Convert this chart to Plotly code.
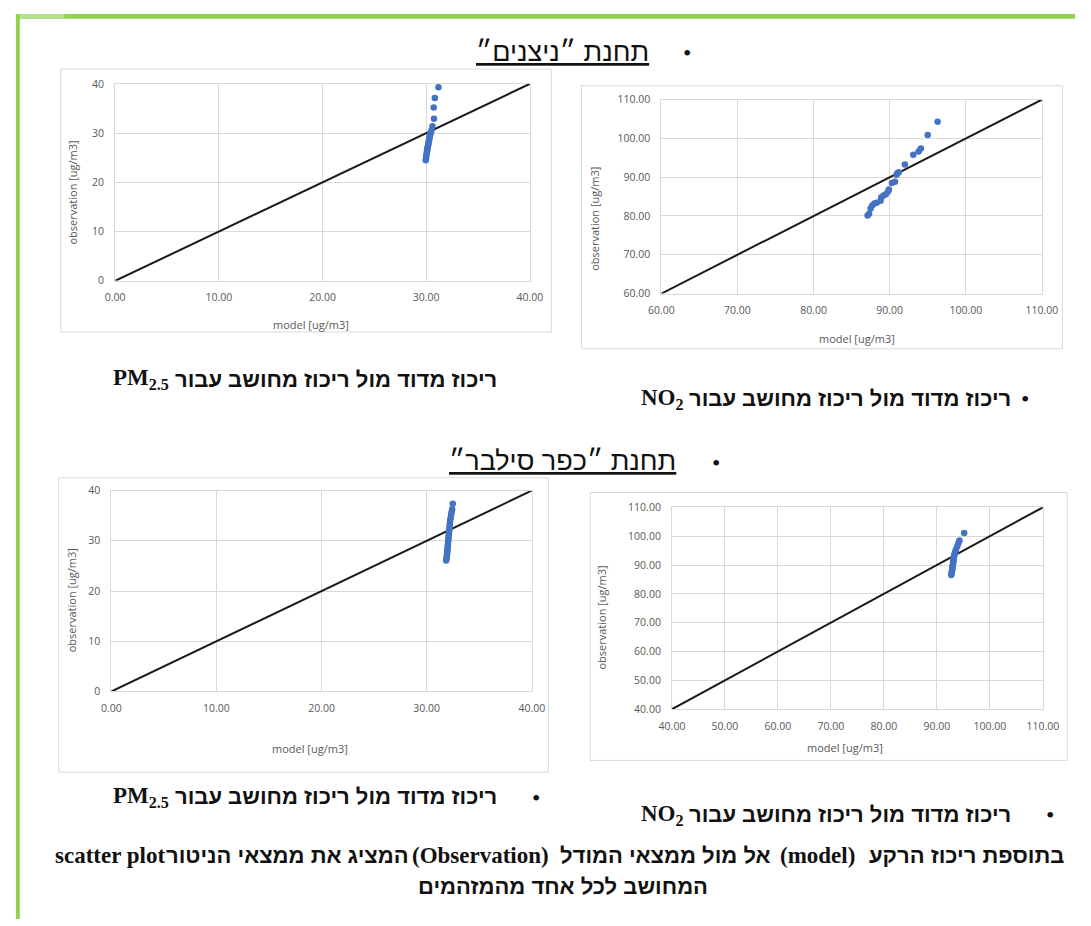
import plotly.graph_objects as go

W, H = 1091, 926

# ---- Netzanim station: PM2.5 (model vs observation, ug/m3)
pm_nitz_model = [29.95, 29.98, 30.00, 30.02, 30.05, 30.08, 30.10, 30.12, 30.15, 30.18,
                 30.20, 30.22, 30.25, 30.28, 30.30, 30.33, 30.36, 30.40, 30.45, 30.50,
                 30.60, 30.75, 30.72, 30.83, 31.18]
pm_nitz_obs = [24.5, 24.9, 25.2, 25.6, 25.9, 26.3, 26.6, 26.9, 27.2, 27.5,
               27.8, 28.0, 28.3, 28.6, 28.9, 29.2, 29.5, 29.8, 30.1, 30.5,
               31.4, 32.9, 35.2, 37.1, 39.3]

# ---- Netzanim station: NO2
no2_nitz_model = [87.1, 87.3, 87.5, 87.7, 88.0, 88.3, 88.8, 88.9, 89.2, 89.5,
                  89.8, 89.9, 90.3, 90.7, 90.9, 91.0, 91.2, 92.0, 93.1, 93.8,
                  94.1, 95.0, 96.3]
no2_nitz_obs = [80.1, 80.6, 81.9, 82.7, 83.2, 83.4, 83.9, 84.8, 85.3, 85.6,
                86.3, 86.8, 88.5, 88.8, 90.6, 91.0, 91.3, 93.3, 95.8, 96.6,
                97.4, 100.9, 104.3]

# ---- Kfar Silver station: PM2.5
pm_kfar_model = [31.85, 31.88, 31.90, 31.92, 31.93, 31.95, 31.97, 31.98, 32.00, 32.02,
                 32.03, 32.05, 32.07, 32.08, 32.10, 32.12, 32.14, 32.15, 32.17, 32.20,
                 32.22, 32.25, 32.30, 32.33, 32.38, 32.42, 32.48]
pm_kfar_obs = [26.1, 26.4, 26.7, 27.0, 27.3, 27.7, 28.0, 28.4, 28.8, 29.2,
               29.6, 30.0, 30.4, 30.8, 31.2, 31.6, 32.0, 32.4, 32.8, 33.3,
               33.8, 34.3, 34.8, 35.3, 35.8, 36.3, 37.4]

# ---- Kfar Silver station: NO2
no2_kfar_model = [92.70, 92.75, 92.80, 92.85, 92.88, 92.92, 92.95, 93.00, 93.05, 93.08,
                  93.12, 93.15, 93.20, 93.25, 93.30, 93.40, 93.50, 93.60, 93.85, 94.05,
                  94.25, 95.15]
no2_kfar_obs = [86.5, 87.0, 87.5, 88.0, 88.5, 89.0, 89.5, 90.0, 90.5, 91.0,
                91.5, 92.0, 92.5, 93.0, 93.6, 94.2, 94.8, 95.4, 96.5, 97.5,
                98.5, 101.1]

# axis ranges (the 1:1 reference line spans each range)
pm_range = [0, 40]
no2_nitz_range = [60, 110]
no2_kfar_range = [40, 110]

x_title = "model [ug/m3]"
y_title = "observation [ug/m3]"

header_nitz = "תחנת ״ניצנים״"
header_kfar = "תחנת ״כפר סילבר״"
caption_he = "ריכוז מדוד מול ריכוז מחושב עבור"
pm_label = "PM<sub>2.5</sub>"
no2_label = "NO<sub>2</sub>"
# summary sentence runs, in the order they sit from left to right on the line
summary_runs = ["scatter plot", "המציג את ממצאי הניטור", "(Observation)",
                "אל מול ממצאי המודל", "(model)", "בתוספת ריכוז הרקע"]
summary_line2 = "המחושב לכל אחד מהמזהמים"


def fx(p):
    return p / W


def fy(p):
    return 1 - p / H


GRID = "#d9d9d9"
TICK_COLOR = "#595959"
BLUE = "#4472c4"
GREEN = "#92d050"
TICK_FONT = dict(family="Open Sans", size=10.5, color=TICK_COLOR)
AXIS_TITLE_FONT = dict(family="Open Sans", size=11, color=TICK_COLOR)

# plot: pixel box of the plotting area; frame: chart border;
# xt / yt: centres of the x and y axis titles
panels = [
    dict(model=pm_nitz_model, obs=pm_nitz_obs, rng=pm_range, dtick=10,
         xfmt=".2f", yfmt=".0f", plot=(105, 531, 78, 278), frame=(49, 553, 63, 330),
         xt=(306, 322), yt=(61, 188)),
    dict(model=no2_nitz_model, obs=no2_nitz_obs, rng=no2_nitz_range, dtick=10,
         xfmt=".2f", yfmt=".2f", plot=(666, 1057, 94, 291), frame=(584, 1078, 80, 347),
         xt=(867, 337), yt=(598, 215)),
    dict(model=pm_kfar_model, obs=pm_kfar_obs, rng=pm_range, dtick=10,
         xfmt=".2f", yfmt=".0f", plot=(101, 533, 491, 695), frame=(47, 550, 478, 777),
         xt=(305, 753), yt=(60, 602)),
    dict(model=no2_kfar_model, obs=no2_kfar_obs, rng=no2_kfar_range, dtick=10,
         xfmt=".2f", yfmt=".2f", plot=(677, 1058, 508, 713), frame=(593, 1083, 493, 765),
         xt=(855, 752), yt=(605, 620)),
]

fig = go.Figure()
shapes = []
annotations = []

for i, p in enumerate(panels, start=1):
    xa = "x" if i == 1 else f"x{i}"
    ya = "y" if i == 1 else f"y{i}"
    # 1:1 line
    fig.add_trace(go.Scatter(x=p["rng"], y=p["rng"], mode="lines",
                             line=dict(color="#1a1a1a", width=2),
                             xaxis=xa, yaxis=ya, showlegend=False, hoverinfo="skip"))
    # observations vs model
    fig.add_trace(go.Scatter(x=p["model"], y=p["obs"], mode="markers",
                             marker=dict(color=BLUE, size=6.5, line=dict(width=0)),
                             xaxis=xa, yaxis=ya, showlegend=False))
    x0, x1, y0, y1 = p["plot"]
    axis_common = dict(range=p["rng"], dtick=p["dtick"], tick0=p["rng"][0],
                       showgrid=True, gridcolor=GRID, gridwidth=1,
                       showline=True, linecolor=GRID, linewidth=1, mirror=True,
                       zeroline=False, ticks="", tickfont=TICK_FONT, fixedrange=True)
    fig.update_layout(**{
        ("xaxis" if i == 1 else f"xaxis{i}"): dict(
            axis_common, domain=[fx(x0), fx(x1)], anchor=ya,
            tickformat=p["xfmt"], ticklabelstandoff=7),
        ("yaxis" if i == 1 else f"yaxis{i}"): dict(
            axis_common, domain=[fy(y1), fy(y0)], anchor=xa,
            tickformat=p["yfmt"], ticklabelstandoff=8),
    })
    # chart frame
    f0, f1, g0, g1 = p["frame"]
    shapes.append(dict(type="rect", xref="paper", yref="paper",
                       x0=fx(f0), x1=fx(f1), y0=fy(g1), y1=fy(g0),
                       line=dict(color=GRID, width=1), fillcolor="rgba(0,0,0,0)",
                       layer="below"))
    # axis titles
    annotations.append(dict(text=x_title, x=fx(p["xt"][0]), y=fy(p["xt"][1]),
                            xref="paper", yref="paper", showarrow=False,
                            xanchor="center", yanchor="middle", font=AXIS_TITLE_FONT))
    annotations.append(dict(text=y_title, x=fx(p["yt"][0]), y=fy(p["yt"][1]),
                            xref="paper", yref="paper", showarrow=False, textangle=-90,
                            xanchor="center", yanchor="middle", font=AXIS_TITLE_FONT))

# page border decoration
shapes += [
    dict(type="rect", xref="paper", yref="paper", x0=fx(3), x1=fx(1091), y0=fy(12), y1=fy(7),
         fillcolor=GREEN, line=dict(width=0)),
    dict(type="rect", xref="paper", yref="paper", x0=fx(3), x1=fx(53), y0=fy(12), y1=fy(7),
         fillcolor="#b5e08e", line=dict(width=0)),
    dict(type="rect", xref="paper", yref="paper", x0=fx(3), x1=fx(7), y0=fy(926), y1=fy(7),
         fillcolor=GREEN, line=dict(width=0)),
]

HEAD_FONT = dict(family="Liberation Sans", size=27, color="#111111")
LATIN_FONT = dict(family="Liberation Serif", size=23, color="#111111")
HEB_FONT = dict(family="Liberation Sans", size=22, color="#111111")
BULLET_FONT = dict(family="Liberation Serif", size=24, color="#111111")


def text(t, x, y, font, xanchor="center"):
    annotations.append(dict(text=t, x=fx(x), y=fy(y), xref="paper", yref="paper",
                            showarrow=False, xanchor=xanchor, yanchor="middle", font=font))


# station headings
text(f"<u>{header_nitz}</u>", 565, 46, HEAD_FONT)
text("•", 692, 47, BULLET_FONT)
text(f"<u>{header_kfar}</u>", 565, 461, HEAD_FONT)
text("•", 722, 463, BULLET_FONT)

# captions under each chart
for (yy, bullet_x) in [(378, None), (802, 537)]:
    text(f"<b>{pm_label}</b>", 101, yy, LATIN_FONT, xanchor="left")
    text(f"<b>{caption_he}</b>", 499, yy, HEB_FONT, xanchor="right")
    if bullet_x:
        text("•", bullet_x, yy + 1, BULLET_FONT)
for (yy, bullet_x) in [(398, 1040), (820, 1065)]:
    text(f"<b>{no2_label}</b>", 643, yy, LATIN_FONT, xanchor="left")
    text(f"<b>{caption_he}</b>", 1027, yy, HEB_FONT, xanchor="right")
    text("•", bullet_x, yy, BULLET_FONT)

# summary sentence, one annotation per Latin / Hebrew run
run_centres = [100, 282, 480, 670, 826, 980]
for run, cx in zip(summary_runs, run_centres):
    font = LATIN_FONT if run[0].isascii() else HEB_FONT
    text(f"<b>{run}</b>", cx, 862, font)
text(f"<b>{summary_line2}</b>", 565, 893, HEB_FONT)

fig.update_layout(
    width=W, height=H, margin=dict(l=0, r=0, t=0, b=0),
    paper_bgcolor="white", plot_bgcolor="white",
    shapes=shapes, annotations=annotations, showlegend=False,
)

fig.write_html("out.html", config={"displayModeBar": False})
